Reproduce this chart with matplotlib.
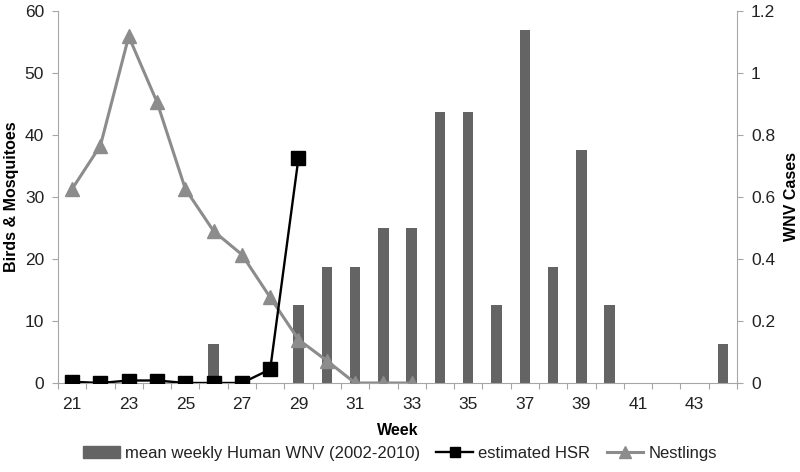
import matplotlib
matplotlib.use('Agg')
import matplotlib.pyplot as plt
import numpy
from matplotlib.lines import Line2D
from matplotlib.patches import Patch

plt.rcParams['font.family'] = ['Liberation Sans', 'DejaVu Sans']

weeks = list(range(21, 45))
# mean weekly human WNV cases (right axis)
human_wnv = [0, 0, 0, 0, 0, 0.125, 0, 0, 0.25, 0.375, 0.375, 0.5, 0.5,
             0.875, 0.875, 0.25, 1.14, 0.375, 0.75, 0.25, 0, 0, 0, 0.125]
# estimated HSR, weeks 21-29 (left axis)
hsr_weeks = list(range(21, 30))
hsr = [0.2, 0, 0.4, 0.4, 0, 0, 0, 2.2, 36.3]
# nestlings, weeks 21-33 (left axis)
nest_weeks = list(range(21, 34))
nestlings = [31.3, 38.3, 55.9, 45.3, 31.3, 24.5, 20.7, 13.8, 7.0, 3.6,
             0, 0, 0]

axis_grey = '#a6a6a6'
bar_color = '#646464'
nest_color = '#8c8c8c'
text_color = '#222222'

fig = plt.figure(figsize=(8, 4.72), dpi=100)
ax = fig.add_axes([0.0725, 0.1886, 0.8488, 0.7881])
axr = ax.twinx()

x = numpy.arange(len(weeks))
axr.bar(x, human_wnv, width=0.37, color=bar_color, zorder=2)

idx = {w: i for i, w in enumerate(weeks)}
ax.plot([idx[w] for w in nest_weeks], nestlings, color=nest_color,
        lw=2.2, marker='^', markersize=10.5, zorder=3)
ax.plot([idx[w] for w in hsr_weeks], hsr, color='black', lw=1.7,
        marker='s', markersize=10, zorder=4)

# put lines on top of bars
ax.set_zorder(axr.get_zorder() + 1)
ax.patch.set_visible(False)

ax.set_xlim(-0.5, len(weeks) - 0.5)
ax.set_ylim(0, 60)
axr.set_ylim(0, 1.2)
ax.set_yticks(range(0, 61, 10))
axr.set_yticks([0, 0.2, 0.4, 0.6, 0.8, 1, 1.2])
axr.set_yticklabels(['0', '0.2', '0.4', '0.6', '0.8', '1', '1.2'])

# ticks between categories, labels on every other week
ax.set_xticks(numpy.arange(-0.5, len(weeks), 1))
ax.set_xticklabels([])
ax.set_xticks(x[::2], minor=True)
ax.set_xticklabels([str(w) for w in weeks[::2]], minor=True)
ax.tick_params(axis='x', which='major', length=4, color=axis_grey,
               direction='out')
ax.tick_params(axis='x', which='minor', length=0, pad=10, labelsize=12.5,
               labelcolor=text_color)
ax.tick_params(axis='y', length=4, color=axis_grey, labelsize=12.5,
               labelcolor=text_color, pad=6)
axr.tick_params(axis='y', length=4, color=axis_grey, labelsize=12.5,
                labelcolor=text_color, pad=6)

for a in (ax, axr):
    a.spines['top'].set_visible(False)
    for s in ('left', 'right', 'bottom'):
        a.spines[s].set_color(axis_grey)
ax.spines['right'].set_visible(False)
axr.spines['left'].set_visible(False)
axr.spines['bottom'].set_visible(False)

ax.set_xlabel('Week', fontsize=11.5, fontweight='bold', labelpad=8)
ax.set_ylabel('Birds & Mosquitoes', fontsize=11.5, fontweight='bold',
              labelpad=4)
axr.set_ylabel('WNV Cases', fontsize=11.5, fontweight='bold', labelpad=6)

handles = [
    Patch(color=bar_color, label='mean weekly Human WNV (2002-2010)'),
    Line2D([0], [0], color='black', lw=1.7, marker='s', markersize=7,
           label='estimated HSR'),
    Line2D([0], [0], color=nest_color, lw=2.2, marker='^', markersize=8,
           label='Nestlings'),
]
fig.legend(handles=handles, loc='center', bbox_to_anchor=(0.5, 0.04),
           ncol=3, frameon=False, fontsize=12, handlelength=2.2,
           handletextpad=0.3, columnspacing=1.0, labelcolor=text_color)

fig.savefig('out.png', dpi=100)
